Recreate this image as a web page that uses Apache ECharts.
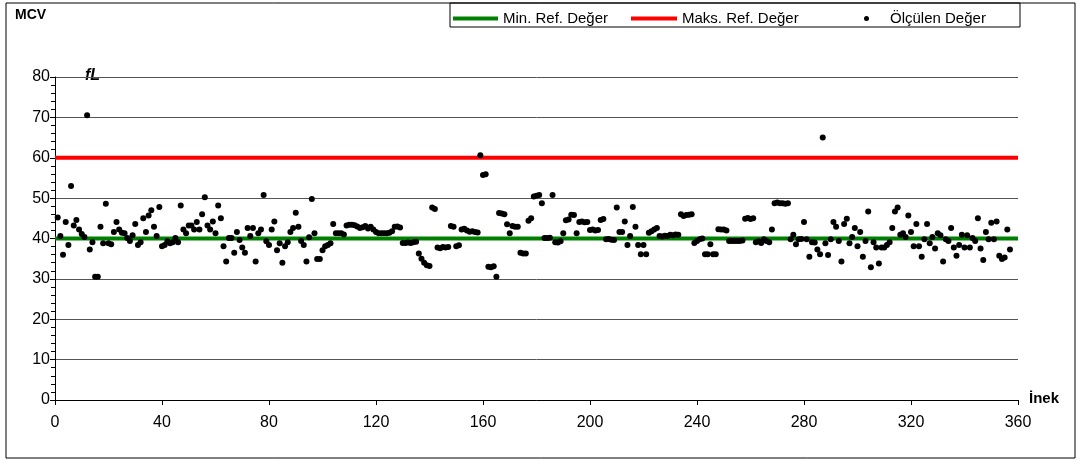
<!DOCTYPE html>
<html><head><meta charset="utf-8">
<script src="https://cdn.jsdelivr.net/npm/echarts@6/dist/echarts.min.js"></script>
<style>html,body{margin:0;padding:0;background:#fff}#c{width:1083px;height:464px}</style>
</head><body><div id="c"></div>
<script>
// MCV values for cows 1..358 (fL)
const mcvValues = [
45.2,40.6,36.0,44.1,38.4,53.0,43.2,44.6,42.2,41.1,
40.4,70.5,37.3,39.1,30.5,30.5,42.9,38.8,48.6,38.8,
38.6,41.6,44.1,42.2,41.4,41.3,40.1,39.4,40.8,43.6,
38.4,39.1,45.0,41.6,45.7,47.0,42.9,40.6,47.8,38.1,
38.4,39.3,38.8,39.1,40.1,39.1,48.2,42.2,41.3,43.2,
43.2,42.2,44.1,42.2,46.0,50.2,43.2,42.2,44.2,41.3,
48.2,45.0,38.1,34.3,40.1,40.1,36.5,41.6,39.6,37.8,
36.5,42.6,40.6,42.6,34.3,41.3,42.2,50.8,39.3,38.4,
42.2,44.2,37.1,38.8,34.0,38.1,39.1,41.6,42.6,46.4,
42.9,39.4,38.4,34.3,40.3,49.8,41.3,34.9,34.9,37.1,
38.1,38.4,38.8,43.6,41.3,41.3,41.3,41.0,43.2,43.4,
43.4,43.3,43.0,42.6,42.8,43.1,42.5,42.9,42.2,41.6,
41.3,41.3,41.3,41.3,41.4,41.8,42.9,43.0,42.7,38.9,
38.9,39.0,38.9,39.1,39.2,36.3,35.0,34.0,33.4,33.2,
47.7,47.3,37.8,37.6,37.9,37.8,37.9,43.1,42.9,38.1,
38.3,42.2,42.4,42.0,41.7,41.8,41.6,41.5,60.6,55.7,
55.9,33.0,32.9,33.1,30.5,46.3,46.2,46.0,43.5,41.3,
43.1,42.9,42.9,36.5,36.3,36.3,44.4,45.0,50.4,50.6,
50.8,48.7,40.1,40.1,40.2,50.8,39.1,39.0,39.3,41.3,
44.5,44.7,45.9,45.8,41.3,44.1,44.2,44.0,44.1,42.1,
42.2,42.0,42.1,44.6,44.8,39.8,39.9,39.7,39.6,47.7,
41.6,41.6,44.2,38.4,40.6,47.8,42.9,38.4,36.1,38.4,
36.1,41.4,41.8,42.2,42.6,40.6,40.5,40.7,40.6,40.9,
40.8,41.0,40.9,46.0,45.6,45.8,45.9,46.0,38.9,39.4,
39.8,40.0,36.1,36.1,38.6,36.1,36.1,42.3,42.2,42.2,
42.0,39.4,39.4,39.4,39.4,39.4,39.5,44.9,45.1,44.8,
45.0,39.1,39.3,38.9,39.8,39.4,39.1,42.2,48.7,48.9,
48.7,48.7,48.6,48.7,39.8,40.9,38.6,39.8,39.9,44.1,
39.8,35.5,39.1,39.0,37.3,36.1,65.0,38.8,35.9,39.8,
44.1,42.9,39.4,34.3,43.6,44.9,38.8,40.4,42.6,38.1,
41.6,35.5,39.4,46.7,32.9,39.1,37.8,33.8,37.8,37.8,
38.4,39.1,42.6,46.7,47.7,40.9,41.3,40.4,45.7,41.6,
38.1,43.6,38.1,35.5,39.8,43.6,38.8,40.4,37.5,41.3,
40.8,34.3,39.8,39.4,42.6,37.8,35.7,38.4,40.9,37.8,
40.8,37.8,40.1,39.4,45.0,37.5,34.7,41.6,39.8,43.9,
39.8,44.2,35.7,34.9,35.3,42.2,37.3
];
const refMin = 40;
const refMax = 60;
const xRange = [0, 360];
const seriesNames = ['Min. Ref. Değer', 'Maks. Ref. Değer', 'Ölçülen Değer'];

const scatterData = mcvValues.map((v, i) => [i + 1, v]);
const chart = echarts.init(document.getElementById('c'));
const font = 'Liberation Sans, Arial, sans-serif';
const legendText = { fontSize: 15, color: '#000', fontFamily: font };
chart.setOption({
  animation: false,
  backgroundColor: '#fff',
  textStyle: { fontFamily: font },
  grid: { left: 55, right: 65, top: 77, bottom: 64, containLabel: false },
  legend: [
    { top: 6, left: 448, itemWidth: 45, itemHeight: 4, itemGap: 5, textStyle: legendText,
      data: [{ name: seriesNames[0], icon: 'rect' }] },
    { top: 6, left: 626, itemWidth: 46, itemHeight: 4, itemGap: 5, textStyle: legendText,
      data: [{ name: seriesNames[1], icon: 'rect' }] },
    { top: 6, left: 859, itemWidth: 37, itemHeight: 5, itemGap: 5, textStyle: legendText,
      data: [{ name: seriesNames[2], icon: 'circle', itemStyle: { color: '#000', opacity: 1 } }] }
  ],
  xAxis: {
    type: 'value', min: xRange[0], max: xRange[1], interval: 40,
    axisLine: { lineStyle: { color: '#000', width: 1 } },
    axisTick: { show: true, length: 5, inside: false, lineStyle: { color: '#000' } },
    axisLabel: { fontSize: 16, color: '#000', margin: 15, fontFamily: font },
    splitLine: { show: false }
  },
  yAxis: {
    type: 'value', min: 0, max: 80, interval: 10,
    axisLine: { show: true, lineStyle: { color: '#000' } },
    axisTick: { show: true, length: 5, lineStyle: { color: '#000' } },
    minorTick: { show: true, splitNumber: 5, length: 4, lineStyle: { color: '#000' } },
    axisLabel: { fontSize: 16, color: '#000', margin: 5, fontFamily: font },
    splitLine: { show: true, lineStyle: { color: '#555', width: 1 } }
  },
  series: [
    { name: seriesNames[0], type: 'line', data: [[xRange[0], refMin], [xRange[1], refMin]],
      symbol: 'none', lineStyle: { color: '#008000', width: 4 }, itemStyle: { color: '#008000' }, z: 2 },
    { name: seriesNames[1], type: 'line', data: [[xRange[0], refMax], [xRange[1], refMax]],
      symbol: 'none', lineStyle: { color: '#ff0000', width: 4 }, itemStyle: { color: '#ff0000' }, z: 2 },
    { name: seriesNames[2], type: 'scatter', data: scatterData, symbolSize: 6,
      itemStyle: { color: '#000', opacity: 1 }, z: 3 }
  ],
  graphic: [
    { type: 'rect', shape: { x: 6, y: 3, width: 1069, height: 455 }, style: { fill: 'none', stroke: '#000', lineWidth: 1 }, z: -1 },
    { type: 'rect', shape: { x: 450, y: 3, width: 570, height: 24 }, style: { fill: 'none', stroke: '#000', lineWidth: 1 } },
    { type: 'text', left: 15, top: 8, style: { text: 'MCV', font: 'bold 14px ' + font, fill: '#000' } },
    { type: 'text', left: 85, top: 68, style: { text: 'fL', font: 'italic bold 16px ' + font, fill: '#000' } },
    { type: 'text', left: 1029, top: 391, style: { text: 'İnek', font: 'bold 15px ' + font, fill: '#000' } }
  ]
});
</script></body></html>
